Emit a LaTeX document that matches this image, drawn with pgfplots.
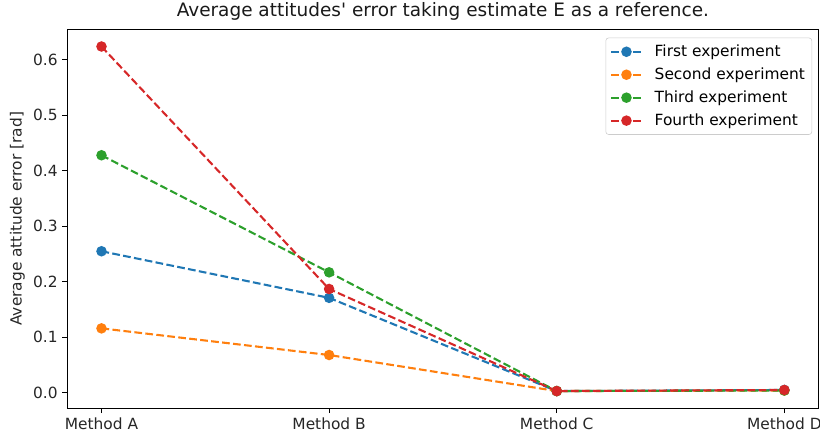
\documentclass[border=0pt]{standalone}
\usepackage{fontspec}
\setmainfont{DejaVu Sans}[Ligatures=TeXOff]
\usepackage{pgfplots}
\pgfplotsset{compat=1.18}
\usetikzlibrary{calc}

\definecolor{tabblue}{HTML}{1F77B4}
\definecolor{taborange}{HTML}{FF7F0E}
\definecolor{tabgreen}{HTML}{2CA02C}
\definecolor{tabred}{HTML}{D62728}

\begin{document}
\begin{tikzpicture}
\begin{axis}[
  scale only axis,
  width=540.9pt, height=272.9pt,
  xmin=-0.15, xmax=3.15,
  ymin=-0.028, ymax=0.655,
  xtick={0,1,2,3},
  xticklabels={Method A, Method B, Method C, Method D},
  ytick={0,0.1,0.2,0.3,0.4,0.5,0.6},
  yticklabel style={/pgf/number format/.cd, fixed, fixed zerofill, precision=1},
  /pgf/number format/assume math mode=true,
  tick label style={font=\fontsize{11.1}{13}\selectfont, text=black!85},
  label style={font=\fontsize{11.1}{13}\selectfont, text=black!85},
  xtick pos=bottom, ytick pos=left,
  tick align=outside,
  major tick length=3.5pt,
  tick style={black, line width=0.8pt},
  axis line style={line width=0.8pt},
  ylabel={Average attitude error [rad]},
  ylabel style={yshift=-1pt},
  title={Average attitudes' error taking estimate E as a reference.},
  title style={font=\fontsize{13.3}{15}\selectfont, text=black!90, yshift=-3pt},
  legend style={
    at={(rel axis cs:0.9915,0.978)}, anchor=north east,
    draw=black!20, rounded corners=2pt,
    font=\fontsize{11.1}{13}\selectfont,
    row sep=2.6pt, inner sep=3pt,
  },
  legend cell align=left,
  legend image code/.code={
    \path (0cm,0cm) (0.78cm+6.5pt,0cm);
    \draw[#1, mark repeat=2, mark phase=2]
      plot coordinates {(0cm,0cm) (0.39cm,0cm) (0.78cm,0cm)};
  },
  every axis plot/.append style={
    line width=1.5pt, dash pattern=on 5.55pt off 2.4pt,
    mark=*, mark size=3pt, mark options={solid},
  },
]
\addplot[tabblue]   coordinates {(0,0.255) (1,0.171) (2,0.003) (3,0.005)};
\addlegendentry{First experiment}
\addplot[taborange] coordinates {(0,0.116) (1,0.068) (2,0.003) (3,0.004)};
\addlegendentry{Second experiment}
\addplot[tabgreen]  coordinates {(0,0.428) (1,0.217) (2,0.003) (3,0.004)};
\addlegendentry{Third experiment}
\addplot[tabred]    coordinates {(0,0.624) (1,0.187) (2,0.003) (3,0.005)};
\addlegendentry{Fourth experiment}
\end{axis}
\pgfresetboundingbox
\useasboundingbox ($(current axis.south west)+(-48.5pt,-20.7pt)$)
  rectangle ($(current axis.north east)+(1.1pt,21.1pt)$);
\end{tikzpicture}
\end{document}
